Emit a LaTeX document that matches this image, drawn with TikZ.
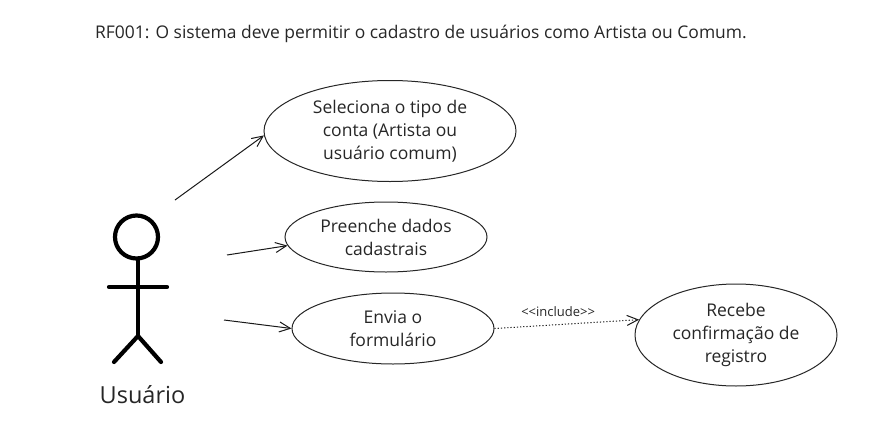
\documentclass[tikz,border=0pt]{standalone}
\usepackage{fontspec}
\setmainfont{Open Sans}
\usetikzlibrary{arrows.meta,shapes.geometric}
\tikzset{
    usecase/.style={draw=black!85, line width=1pt, ellipse, inner sep=0pt, align=center,
                    text=black!85, font=\fontsize{17.5}{23}\selectfont},
    assoc/.style={draw=black!90, line width=1pt, -{Straight Barb[length=11pt,width=10pt]}},
    limb/.style={line width=4.2pt, line cap=round}
}
\begin{document}
\begin{tikzpicture}[x=1pt,y=-1pt]
    \useasboundingbox (0,0) rectangle (894,442);
    \node[text=black!85] (titulo) at (421,34) {\fontsize{17.45}{20}\selectfont RF001: O sistema deve permitir o cadastro de usuários como Artista ou Comum.};
    % casos de uso
    \node[usecase, minimum width=252pt, minimum height=101pt] (seleciona) at (390,131)
        {Seleciona o tipo de\\conta (Artista ou\\usuário comum)};
    \node[usecase, minimum width=202pt, minimum height=70pt] (preenche) at (386,237)
        {Preenche dados\\cadastrais};
    \node[usecase, minimum width=202pt, minimum height=71pt] (envia) at (393,328.5)
        {Envia o\\formulário};
    \node[usecase, minimum width=202pt, minimum height=102pt] (recebe) at (736,335)
        {Recebe\\confirmação de\\registro};
    % ator
    \node[circle, draw, line width=4.2pt, minimum size=43pt, inner sep=0pt] (cabeca) at (136.5,237) {};
    \coordinate (quadril) at (138,336);
    \coordinate (bracoE) at (109,287);
    \coordinate (bracoD) at (167,287);
    \coordinate (peE) at (114,362);
    \coordinate (peD) at (161,362);
    \coordinate (ombro) at (138,287);
    \draw[limb] (ombro |- cabeca.south) -- (quadril);
    \draw[limb] (bracoE) -- (bracoD);
    \draw[limb] (peE) -- (quadril) -- (peD);
    \node[font=\fontsize{23.5}{26}\selectfont, text=black!85] (usuario) at (142.5,395) {Usuário};
    % associacoes
    \coordinate (ator1) at (175,200);
    \coordinate (ator2) at (227,255);
    \coordinate (ator3) at (224,320);
    \draw[assoc] (ator1) -- (seleciona.182.7);
    \draw[assoc] (ator2) -- (preenche.185);
    \draw[assoc] (ator3) -- (envia.west);
    \draw[assoc, dash pattern=on 1.2pt off 2pt] (envia.east) -- (recebe.171.6)
        node[pos=0.44, above=4pt, font=\fontsize{13}{14}\selectfont, text=black!85] (inclui) {<{}<include>{}>};
\end{tikzpicture}
\end{document}
